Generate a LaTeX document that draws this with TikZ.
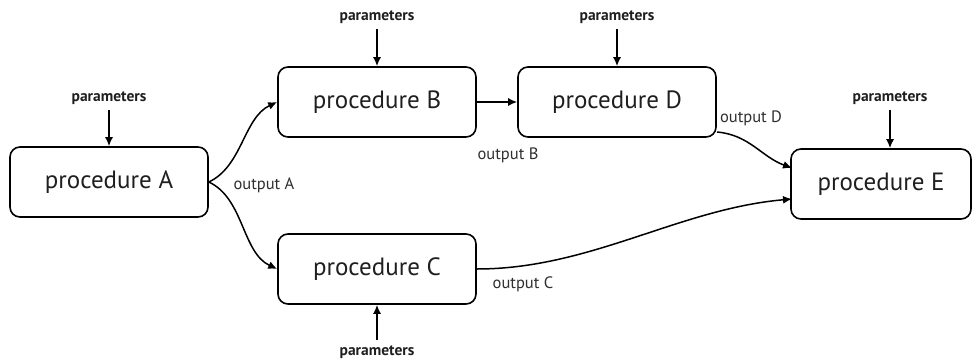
\documentclass[tikz,border=0pt]{standalone}
\usepackage{fontspec}
\setmainfont{PT Sans}
\usetikzlibrary{arrows.meta}
\begin{document}
\begin{tikzpicture}[x=1pt,y=-1pt,
  proc/.style={draw, line width=1.6pt, rounded corners=10pt, minimum width=198pt,
    minimum height=70pt, font=\fontsize{25}{28}\selectfont, text=black!88},
  param/.style={font=\bfseries\fontsize{15.5}{17}\selectfont, text=black!88},
  outlbl/.style={font=\fontsize{16.5}{18}\selectfont, text=black!82},
  conn/.style={line width=1.5pt, -{Latex[length=9pt,width=8pt]}}]
\useasboundingbox (0,0) rectangle (979,362);
% procedures
\node[proc] (A) at (109,182) {procedure A};
\node[proc] (B) at (377,102) {procedure B};
\node[proc] (D) at (617,102) {procedure D};
\node[proc] (C) at (377,269) {procedure C};
\node[proc, minimum width=180pt] (E) at (881,184) {procedure E};
% parameter inputs
\node[param] (pA) at (109,98) {parameters};
\node[param] (pB) at (377,17) {parameters};
\node[param] (pD) at (617,17) {parameters};
\node[param] (pE) at (890,98) {parameters};
\node[param] (pC) at (377,352) {parameters};
\draw[conn] (pA.south) ++(0,2) coordinate (pAs) -- (pAs |- A.north);
\draw[conn] (pB.south) ++(0,2) coordinate (pBs) -- (pBs |- B.north);
\draw[conn] (pD.south) ++(0,2) coordinate (pDs) -- (pDs |- D.north);
\draw[conn] (pE.south) ++(0,2) coordinate (pEs) -- (pEs |- E.north);
\draw[conn] (pC.north) ++(0,-2) coordinate (pCn) -- (pCn |- C.south);
% data flow (to-path angles are canvas angles, counter-clockwise)
\draw[conn] (A.east) to[out=25, in=205, looseness=0.9] (B.west);
\draw[conn] (A.east) to[out=-25, in=155, looseness=0.9] (C.west);
\draw[conn] (B.east) -- (D.west);
\coordinate (Dout) at (717,132);
\coordinate (Ein1) at (792,168);
\coordinate (Ein2) at (792,199);
\draw[conn] (Dout) to[out=-5, in=160, looseness=1.0] (Ein1);
\draw[conn] (C.east) to[out=0, in=185, looseness=0.9] (Ein2);
% output labels
\node[outlbl, anchor=west] (oA) at (230,185) {output A};
\node[outlbl] (oB) at (508,155) {output B};
\node[outlbl] (oD) at (751,118) {output D};
\node[outlbl] (oC) at (523,284) {output C};
\end{tikzpicture}
\end{document}
